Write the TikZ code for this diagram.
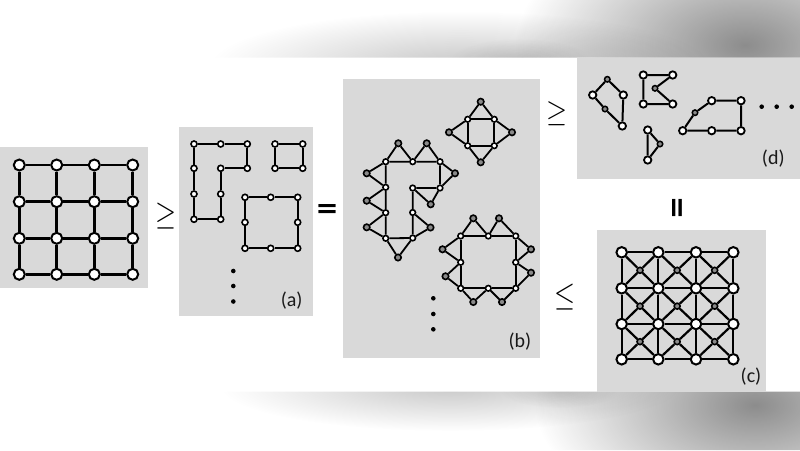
\documentclass[tikz,border=0pt]{standalone}
\usepackage{fontspec}
\setmainfont{Carlito}
\newfontfamily\symf{DejaVu Sans}
\usetikzlibrary{calc,fadings}
\tikzfading[name=fuzz, inner color=transparent!0, outer color=transparent!100]
\definecolor{panel}{HTML}{D9D9D9}
\definecolor{gnode}{HTML}{8A8A8A}
\begin{document}
\begin{tikzpicture}[x=1pt,y=-1pt,
  wL/.style={circle,draw,fill=white,line width=2pt,inner sep=0pt,minimum size=11pt},
  eL/.style={line width=2.6pt},
  wA/.style={circle,draw,fill=white,line width=1.6pt,inner sep=0pt,minimum size=6pt},
  eA/.style={line width=2pt},
  wB/.style={circle,draw,fill=white,line width=1.6pt,inner sep=0pt,minimum size=5.6pt},
  gB/.style={circle,draw,fill=gnode,line width=1.6pt,inner sep=0pt,minimum size=6.4pt},
  eB/.style={line width=1.8pt},
  wC/.style={circle,draw,fill=white,line width=2pt,inner sep=0pt,minimum size=10.5pt},
  gC/.style={circle,draw,fill=gnode,line width=1.6pt,inner sep=0pt,minimum size=6pt},
  eC/.style={line width=2.2pt},
  wD/.style={circle,draw,fill=white,line width=1.8pt,inner sep=0pt,minimum size=7.4pt},
  gD/.style={circle,draw,fill=gnode,line width=1.5pt,inner sep=0pt,minimum size=5.5pt},
  eD/.style={line width=2pt},
  dotn/.style={circle,fill=black,inner sep=0pt,minimum size=4.6pt},
  lab/.style={font=\fontsize{20}{20}\selectfont,text=black!90,inner sep=0pt},
  rel/.style={inner sep=0pt},
  panelbox/.style={fill=panel,draw=none}
]
\useasboundingbox (0,0) rectangle (800,450);
% blurred shadows outside the white band
\begin{scope}
  \clip (0,0) rectangle (800,57.5) (0,391.7) rectangle (800,450);
  \fill[black,fill opacity=0.22,path fading=fuzz] (460,66) ellipse [x radius=250,y radius=55];
  \fill[black,fill opacity=0.12,path fading=fuzz] (520,60) ellipse [x radius=70,y radius=22];
  \fill[black,fill opacity=0.45,path fading=fuzz] (745,45) ellipse [x radius=230,y radius=130];
  \fill[black,fill opacity=0.22,path fading=fuzz] (450,386) ellipse [x radius=230,y radius=45];
  \fill[black,fill opacity=0.12,path fading=fuzz] (560,390) ellipse [x radius=60,y radius=18];
  \fill[black,fill opacity=0.45,path fading=fuzz] (755,405) ellipse [x radius=220,y radius=120];
\end{scope}
% panels
\fill[panelbox] (0,147) rectangle (148,288);
\fill[panelbox] (178.5,126.7) rectangle (313,316);
\fill[panelbox] (343,78.5) rectangle (539.5,357.5);
\fill[panelbox] (576.5,57.5) rectangle (800,178.5);
\fill[panelbox] (597,230) rectangle (765.5,391.7);

% ---------- left grid ----------
\foreach \x [count=\i] in {19.3,56.7,94.3,132.7}
  \foreach \y [count=\j] in {165,201.7,238.3,274.3}
    \node[wL] (L\i\j) at (\x,\y) {};
\foreach \i/\k in {1/2,2/3,3/4}
  \foreach \j in {1,...,4} {
    \draw[eL] (L\i\j) -- (L\k\j);
    \draw[eL] (L\j\i) -- (L\j\k);
  }

% ---------- relation signs ----------
\node[rel] (ge1) at (166,216) {\resizebox*{21pt}{26pt}{$\geq$}};
\node[rel] (eq1) at (327,211) {\resizebox*{23pt}{13pt}{\symf\bfseries =}};
\node[rel] (ge2) at (557,113.5) {\resizebox*{21pt}{24pt}{$\geq$}};
\node[rel] (le1) at (565,297.5) {\resizebox*{21pt}{26pt}{$\leq$}};
\node[rel] (eq2) at (679.5,207.5) {\rotatebox{90}{\resizebox*{23pt}{14pt}{\symf\bfseries =}}};

% ---------- panel (a) ----------
\node[wA] (a1) at (194,144) {};
\node[wA] (a2) at (220.7,144) {};
\node[wA] (a3) at (247.3,144) {};
\node[wA] (a4) at (247.3,168.3) {};
\node[wA] (a5) at (220.7,168.3) {};
\node[wA] (a6) at (220.7,194) {};
\node[wA] (a7) at (220.7,219.3) {};
\node[wA] (a8) at (194,219.3) {};
\node[wA] (a9) at (194,194) {};
\node[wA] (a10) at (194,168.3) {};
\foreach \p/\q in {1/2,2/3,3/4,4/5,5/6,6/7,7/8,8/9,9/10,10/1}
  \draw[eA] (a\p) -- (a\q);
\node[wA] (s1) at (275,144) {};
\node[wA] (s2) at (302.7,144) {};
\node[wA] (s3) at (302.7,168.3) {};
\node[wA] (s4) at (275,168.3) {};
\foreach \p/\q in {1/2,2/3,3/4,4/1}
  \draw[eA] (s\p) -- (s\q);
\node[wA] (q1) at (245,197.3) {};
\node[wA] (q2) at (270.7,197.3) {};
\node[wA] (q3) at (297.7,197.3) {};
\node[wA] (q4) at (297.7,222.3) {};
\node[wA] (q5) at (297.7,248.3) {};
\node[wA] (q6) at (270.7,248.3) {};
\node[wA] (q7) at (245,248.3) {};
\node[wA] (q8) at (245,222.3) {};
\foreach \p/\q in {1/2,2/3,3/4,4/5,5/6,6/7,7/8,8/1}
  \draw[eA] (q\p) -- (q\q);
\node[dotn] (ad1) at (233.3,271) {};
\node[dotn] (ad2) at (233.3,286) {};
\node[dotn] (ad3) at (233.3,301.5) {};
\node[lab] (la) at (291.7,301) {(a)};

% ---------- panel (b) ----------
% diamond
\node[wB] (dTL) at (467.7,119.3) {};
\node[wB] (dTR) at (494.3,119.3) {};
\node[wB] (dBR) at (494.3,145.7) {};
\node[wB] (dBL) at (467.7,145.7) {};
\node[gB] (dgT) at (480.7,101.7) {};
\node[gB] (dgL) at (449,132.3) {};
\node[gB] (dgR) at (512,132.3) {};
\node[gB] (dgB) at (480.7,162.3) {};
\draw[eB] (dTL) -- (dTR) -- (dBR) -- (dBL) -- (dTL);
\draw[eB] (dTL) -- (dgT) -- (dTR);
\draw[eB] (dTL) -- (dgL) -- (dBL);
\draw[eB] (dTR) -- (dgR) -- (dBR);
\draw[eB] (dBL) -- (dgB) -- (dBR);
% large structure
\node[wB] (A) at (385.7,161.7) {};
\node[wB] (B) at (412.7,161.7) {};
\node[wB] (C) at (440,161.7) {};
\node[wB] (D) at (385.7,187.3) {};
\node[wB] (E) at (412.7,188) {};
\node[wB] (F) at (440,188) {};
\node[wB] (G) at (385.7,212.7) {};
\node[wB] (H) at (412.7,212.5) {};
\node[wB] (I) at (385.7,238.3) {};
\node[wB] (J) at (412.7,238) {};
\node[gB] (g1) at (398.3,143.3) {};
\node[gB] (g2) at (426.7,143.3) {};
\node[gB] (g3) at (455,173.3) {};
\node[gB] (g4) at (366.7,173.3) {};
\node[gB] (g5) at (366.7,200.7) {};
\node[gB] (g6) at (366.7,227.3) {};
\node[gB] (g7) at (398,257.5) {};
\node[gB] (g8) at (430.7,204.3) {};
\node[gB] (g9) at (430.5,227.5) {};
\draw[eB] (A) -- (B) -- (C) -- (F) -- (E) -- (H) -- (J) -- (I) -- (G) -- (D) -- (A);
\draw[eB] (A) -- (g1) -- (B);
\draw[eB] (B) -- (g2) -- (C);
\draw[eB] (C) -- (g3) -- (F);
\draw[eB] (A) -- (g4) -- (D);
\draw[eB] (D) -- (g5) -- (G);
\draw[eB] (G) -- (g6) -- (I);
\draw[eB] (I) -- (g7) -- (J);
\draw[eB] (E) -- (g8) -- (F);
\draw[eB] (H) -- (g9) -- (J);
% ring structure
\node[wB] (R1) at (460.7,236) {};
\node[wB] (R2) at (488.3,236) {};
\node[wB] (R3) at (515.7,236) {};
\node[wB] (R4) at (515.7,262.3) {};
\node[wB] (R5) at (515.7,288.3) {};
\node[wB] (R6) at (488.3,288.3) {};
\node[wB] (R7) at (460.7,288.3) {};
\node[wB] (R8) at (460.7,262.3) {};
\node[gB] (r12) at (473.3,218.3) {};
\node[gB] (r23) at (499,218.3) {};
\node[gB] (r34) at (531,249.3) {};
\node[gB] (r45) at (531,272.7) {};
\node[gB] (r56) at (502,302) {};
\node[gB] (r67) at (473.3,302) {};
\node[gB] (r78) at (445.5,276.3) {};
\node[gB] (r81) at (442.5,249.3) {};
\draw[eB] (R1) -- (R2) -- (R3) -- (R4) -- (R5) -- (R6) -- (R7) -- (R8) -- (R1);
\foreach \p/\q in {1/2,2/3,3/4,4/5,5/6,6/7,7/8,8/1}
  \draw[eB] (R\p) -- (r\p\q) -- (R\q);
\node[dotn] (bd1) at (433.3,298.3) {};
\node[dotn] (bd2) at (433.3,314) {};
\node[dotn] (bd3) at (433.3,329.3) {};
\node[lab] (lb) at (520,341.5) {(b)};

% ---------- panel (c) ----------
\foreach \x [count=\i] in {621.7,658.3,696,733.3}
  \foreach \y [count=\j] in {252.3,288.3,324,359.3}
    \node[wC] (C\i\j) at (\x,\y) {};
\foreach \i/\k in {1/2,2/3,3/4}
  \foreach \j in {1,...,4} {
    \draw[eC] (C\i\j) -- (C\k\j);
    \draw[eC] (C\j\i) -- (C\j\k);
  }
\foreach \i/\k in {1/2,2/3,3/4}
  \foreach \j/\l in {1/2,2/3,3/4} {
    \node[gC] (CG\i\j) at ($(C\i\j)!0.5!(C\k\l)$) {};
    \draw[eC] (CG\i\j) -- (C\i\j);
    \draw[eC] (CG\i\j) -- (C\k\j);
    \draw[eC] (CG\i\j) -- (C\i\l);
    \draw[eC] (CG\i\j) -- (C\k\l);
  }
\node[lab] (lc) at (751,377) {(c)};

% ---------- panel (d) ----------
\node[gD] (p1) at (607.3,79.3) {};
\node[wD] (p2) at (592.7,95) {};
\node[wD] (p3) at (623.3,95) {};
\node[gD] (p4) at (605,109) {};
\node[wD] (p5) at (622.3,126) {};
\draw[eD] (p1) -- (p2) -- (p4) -- (p5) -- (p3) -- (p1);
\node[wD] (t1) at (643.3,75) {};
\node[wD] (t2) at (672.7,75) {};
\node[gD] (t3) at (655,88.3) {};
\node[wD] (t4) at (672.7,104) {};
\node[wD] (t5) at (643.3,104) {};
\draw[eD] (t1) -- (t2) -- (t3) -- (t4) -- (t5) -- (t1);
\node[wD] (u1) at (647.7,130) {};
\node[gD] (u2) at (660,144) {};
\node[wD] (u3) at (647.7,160) {};
\draw[eD] (u1) -- (u2) -- (u3) -- (u1);
\node[wD] (v1) at (711.7,100.7) {};
\node[wD] (v2) at (741,100.7) {};
\node[wD] (v3) at (741,130.7) {};
\node[wD] (v4) at (711.7,130.7) {};
\node[wD] (v5) at (682.7,130.7) {};
\node[gD] (v6) at (695,112.7) {};
\draw[eD] (v1) -- (v2) -- (v3) -- (v4) -- (v5) -- (v6) -- (v1);
\node[dotn] (dd1) at (761.7,106.7) {};
\node[dotn] (dd2) at (776.7,106.7) {};
\node[dotn] (dd3) at (791.7,106.7) {};
\node[lab] (ld) at (773.3,158.3) {(d)};
\end{tikzpicture}
\end{document}
